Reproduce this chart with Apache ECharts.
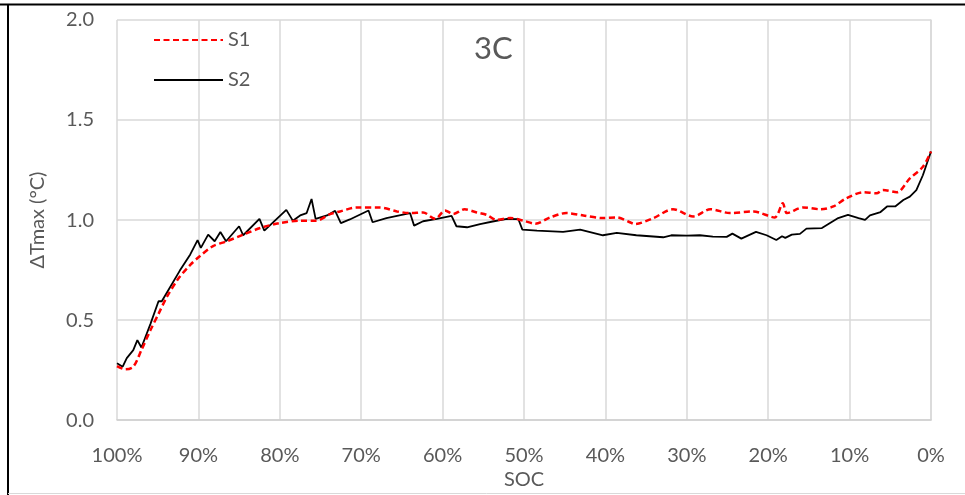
<!DOCTYPE html>
<html>
<head>
<meta charset="utf-8">
<script src="https://cdn.jsdelivr.net/npm/echarts@6/dist/echarts.min.js"></script>
<style>html,body{margin:0;padding:0;background:#fff}#c{width:965px;height:495px}</style>
</head>
<body>
<div id="c"></div>
<script>
const xTicks = [100, 90, 80, 70, 60, 50, 40, 30, 20, 10, 0];
const yTicks = [0.0, 0.5, 1.0, 1.5, 2.0];
const seriesNames = ['S1', 'S2'];
const chartTitle = '3C';

const s1Soc = [100,99.0,98.0,97.0,95.9,94.9,93.9,92.5,91.0,89.8,88.2,86.5,84.5,82.4,80.0,77.5,75.5,73.8,72.6,70.6,67.7,65.6,64.0,62.4,60.9,59.7,58.7,57.3,55.8,54.6,53.4,51.7,50.1,48.6,46.8,44.8,42.7,40.3,38.6,37.0,36.4,34.1,31.7,29.2,27.1,24.7,21.8,19.2,18.2,17.7,15.7,13.6,12.0,10.4,8.3,6.7,5.9,4.2,2.6,1.0,0];
const s1Val = [0.27,0.254,0.267,0.35,0.449,0.531,0.614,0.705,0.776,0.82,0.87,0.894,0.927,0.96,0.985,0.997,0.997,1.03,1.043,1.063,1.063,1.043,1.035,1.038,1.006,1.048,1.03,1.054,1.038,1.026,1.001,1.01,0.997,0.982,1.013,1.035,1.023,1.01,1.013,0.989,0.98,1.01,1.054,1.018,1.054,1.035,1.043,1.013,1.084,1.035,1.063,1.054,1.068,1.109,1.139,1.134,1.15,1.139,1.208,1.266,1.343];

const s2Soc = [100,99.3,98.8,98.0,97.5,97.0,95.9,94.9,94.5,93.5,92.3,91.0,90.1,89.7,88.8,88.0,87.3,86.6,85.0,84.5,82.5,81.9,79.2,78.4,77.5,76.7,76.1,75.6,74.2,73.2,72.5,71.4,69.1,68.6,66.9,64.0,63.5,62.4,60.7,58.9,58.3,57.0,55.4,53.7,52.1,50.7,50.2,48.4,45.2,43.1,40.3,38.6,36.2,32.9,31.9,30.0,28.4,26.8,25.1,24.4,23.3,21.5,20.2,19.0,18.3,17.9,17.1,16.1,15.3,13.4,12.4,11.4,10.2,8.9,8.1,7.5,6.2,5.4,4.4,3.4,2.6,1.8,1.0,0];
const s2Val = [0.284,0.267,0.31,0.35,0.40,0.363,0.48,0.594,0.594,0.663,0.746,0.828,0.90,0.861,0.927,0.894,0.94,0.894,0.969,0.924,1.006,0.947,1.051,0.997,1.023,1.035,1.105,1.006,1.023,1.046,0.985,1.003,1.048,0.989,1.01,1.035,0.972,0.994,1.006,1.021,0.969,0.964,0.98,0.994,1.006,1.005,0.952,0.947,0.941,0.952,0.924,0.936,0.924,0.914,0.924,0.922,0.924,0.917,0.916,0.932,0.907,0.941,0.924,0.90,0.919,0.911,0.927,0.931,0.957,0.96,0.985,1.01,1.026,1.01,1.001,1.023,1.04,1.068,1.068,1.10,1.117,1.15,1.224,1.343];

const FONT = 'Lato, "Open Sans", sans-serif';
const TXT = '#595959';
const s1Data = s1Soc.map((x, i) => [x, s1Val[i]]);
const s2Data = s2Soc.map((x, i) => [x, s2Val[i]]);

const chart = echarts.init(document.getElementById('c'), null, {renderer: 'canvas'});
chart.setOption({
  animation: false,
  backgroundColor: '#fff',
  title: {
    text: chartTitle, left: 469, top: 28,
    textStyle: {fontFamily: FONT, fontSize: 31, fontWeight: 'normal', color: TXT}
  },
  legend: {
    data: seriesNames, orient: 'vertical', left: 148, top: 25,
    itemWidth: 69, itemHeight: 20, itemGap: 20,
    itemStyle: {opacity: 0},
    textStyle: {fontFamily: FONT, fontSize: 20, color: TXT}
  },
  grid: {left: 117, right: 34, top: 20, bottom: 71},
  xAxis: {
    type: 'value', min: 0, max: 100, interval: 10, inverse: true,
    name: 'SOC', nameLocation: 'middle', nameGap: 40,
    nameTextStyle: {fontFamily: FONT, fontSize: 20, color: TXT},
    axisLine: {show: true, lineStyle: {color: '#d0d0d0', width: 1.5}},
    axisTick: {show: false},
    axisLabel: {
      margin: 25, fontFamily: FONT, fontSize: 20, color: TXT,
      formatter: v => xTicks.includes(v) ? v + '%' : ''
    },
    splitLine: {show: true, lineStyle: {color: '#d9d9d9', width: 1.5}}
  },
  yAxis: {
    type: 'value', min: 0, max: 2, interval: 0.5,
    name: 'ΔTmax (°C)', nameLocation: 'middle', nameGap: 69,
    nameTextStyle: {fontFamily: FONT, fontSize: 20, color: TXT},
    axisLine: {show: true, lineStyle: {color: '#d9d9d9', width: 1.5}},
    axisTick: {show: false},
    axisLabel: {
      margin: 23, fontFamily: FONT, fontSize: 20, color: TXT,
      formatter: v => yTicks.includes(v) ? v.toFixed(1) : ''
    },
    splitLine: {show: true, lineStyle: {color: '#d9d9d9', width: 1.5}}
  },
  series: [
    {
      name: seriesNames[0], type: 'line', data: s1Data, symbol: 'none', smooth: 0.3,
      lineStyle: {color: '#ff0000', width: 2.5, type: [6, 3.5]},
      itemStyle: {color: '#ff0000'}, z: 3
    },
    {
      name: seriesNames[1], type: 'line', data: s2Data, symbol: 'none',
      lineStyle: {color: '#000000', width: 1.8},
      itemStyle: {color: '#000000'}, z: 2
    }
  ],
  graphic: [
    {type: 'line', shape: {x1: 0, y1: 4.5, x2: 965, y2: 4.5}, style: {stroke: '#000', lineWidth: 2}},
    {type: 'line', shape: {x1: 8, y1: 4, x2: 8, y2: 495}, style: {stroke: '#000', lineWidth: 2}},
    {type: 'line', shape: {x1: 8, y1: 493.5, x2: 965, y2: 493.5}, style: {stroke: '#d9d9d9', lineWidth: 1}}
  ]
});
</script>
</body>
</html>
